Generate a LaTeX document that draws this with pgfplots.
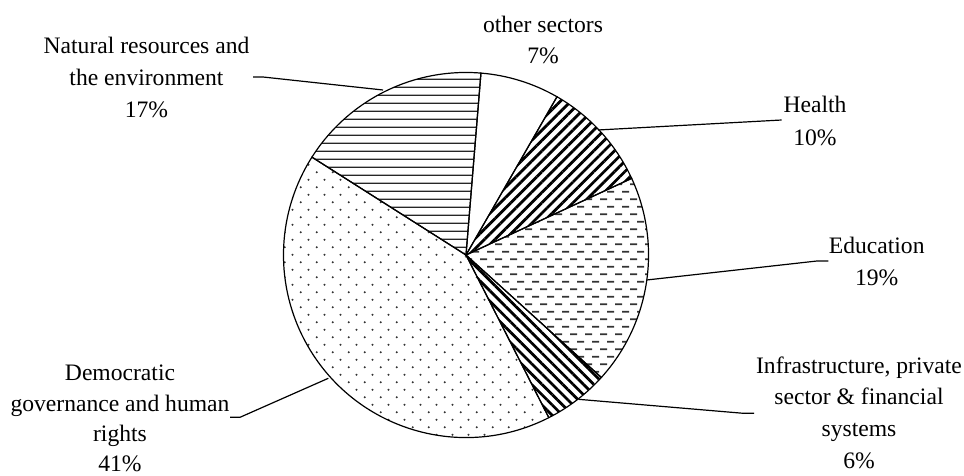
\documentclass[border=0pt]{standalone}
\usepackage{pgfplots}
\pgfplotsset{compat=1.18}
\usepackage{pgfplotstable}
\usetikzlibrary{patterns,patterns.meta}
\usepackage{fontspec}
\setmainfont{Liberation Serif}

% horizontal thin lines (natural resources)
\pgfdeclarepatternformonly{hlinesN}{\pgfqpoint{0pt}{0pt}}{\pgfqpoint{5.8pt}{5.8pt}}{\pgfqpoint{5.8pt}{5.8pt}}{%
  \pgfsetlinewidth{1.05pt}%
  \pgfpathmoveto{\pgfqpoint{-1pt}{2.9pt}}\pgfpathlineto{\pgfqpoint{6.8pt}{2.9pt}}%
  \pgfusepath{stroke}}
% dashed horizontal (education)
\pgfdeclarepatternformonly{edudash}{\pgfqpoint{0pt}{0pt}}{\pgfqpoint{11.25pt}{11.6pt}}{\pgfqpoint{11.25pt}{11.6pt}}{%
  \pgfsetlinewidth{1.3pt}%
  \pgfpathmoveto{\pgfqpoint{0pt}{2.9pt}}\pgfpathlineto{\pgfqpoint{5.6pt}{2.9pt}}%
  \pgfpathmoveto{\pgfqpoint{5.625pt}{8.7pt}}\pgfpathlineto{\pgfqpoint{11.225pt}{8.7pt}}%
  \pgfusepath{stroke}}
% sparse dots (democratic governance)
\pgfdeclarepatternformonly{sparsedots}{\pgfqpoint{0pt}{0pt}}{\pgfqpoint{11.7pt}{11.6pt}}{\pgfqpoint{11.7pt}{11.6pt}}{%
  \pgfpathcircle{\pgfqpoint{2.925pt}{2.9pt}}{0.85pt}%
  \pgfpathcircle{\pgfqpoint{8.775pt}{8.7pt}}{0.85pt}%
  \pgfusepath{fill}}

\tikzset{
  sOther/.style={fill=white},
  sHealth/.style={pattern={Lines[angle=45,distance=5.5pt,line width=2.1pt]},pattern color=black},
  sEdu/.style={pattern=edudash,pattern color=black!80},
  sInfra/.style={pattern={Lines[angle=-45,distance=5.5pt,line width=2.1pt]},pattern color=black},
  sDem/.style={pattern=sparsedots,pattern color=black!80},
  sNat/.style={pattern=hlinesN,pattern color=black!85},
}

\pgfplotstableread{
name value style
other 7.0 sOther
health 9.8 sHealth
education 18.6 sEdu
infra 5.8 sInfra
democratic 41.5 sDem
natural 17.3 sNat
}\piedata

\newcommand\lblfont{\fontsize{17.7pt}{24pt}\selectfont}

\begin{document}
\begin{tikzpicture}
\begin{axis}[
  scale only axis, width=723pt, height=356.25pt,
  xmin=0, xmax=964, ymin=0, ymax=475,
  hide axis, clip=false,
]
\xdef\curang{85.3}
\pgfplotsforeachungrouped \i in {0,...,5}{%
  \pgfplotstablegetelem{\i}{value}\of\piedata \let\val\pgfplotsretval
  \pgfplotstablegetelem{\i}{style}\of\piedata \let\sty\pgfplotsretval
  \pgfmathsetmacro\endang{\curang-3.6*\val}%
  \edef\cmd{\noexpand\draw[line width=0.9pt,\sty] (axis cs:466,220) -- ++(\curang:136.9pt) arc[start angle=\curang, end angle=\endang, radius=136.9pt] -- cycle;}%
  \cmd
  \xdef\curang{\endang}%
}
% leader lines
\draw[line width=0.9pt] (axis cs:383,385) -- (axis cs:263,398) -- (axis cs:253,398);
\draw[line width=0.9pt] (axis cs:598,345) -- (axis cs:781.7,355);
\draw[line width=0.9pt] (axis cs:646.7,195) -- (axis cs:817,214) -- (axis cs:828.3,214);
\draw[line width=0.9pt] (axis cs:578.3,75.7) -- (axis cs:743.3,61.7) -- (axis cs:754,61.7);
\draw[line width=0.9pt] (axis cs:328.3,96.7) -- (axis cs:240,57.7) -- (axis cs:230,57.7);
% labels
\node[anchor=base,font=\lblfont] at (axis cs:146.5,421) {Natural resources and};
\node[anchor=base,font=\lblfont] at (axis cs:146.5,389) {the environment};
\node[anchor=base,font=\lblfont] at (axis cs:146.5,357) {17\%};
\node[anchor=base,font=\lblfont] at (axis cs:543,442.7) {other sectors};
\node[anchor=base,font=\lblfont] at (axis cs:543,411) {7\%};
\node[anchor=base,font=\lblfont] at (axis cs:815,362) {Health};
\node[anchor=base,font=\lblfont] at (axis cs:815,329.3) {10\%};
\node[anchor=base,font=\lblfont] at (axis cs:876.7,221) {Education};
\node[anchor=base,font=\lblfont] at (axis cs:876.7,189.3) {19\%};
\node[anchor=base,font=\lblfont] at (axis cs:859,101) {Infrastructure, private};
\node[anchor=base,font=\lblfont] at (axis cs:859,70) {sector \& financial};
\node[anchor=base,font=\lblfont] at (axis cs:859,38) {systems};
\node[anchor=base,font=\lblfont] at (axis cs:859,7) {6\%};
\node[anchor=base,font=\lblfont] at (axis cs:120,94) {Democratic};
\node[anchor=base,font=\lblfont] at (axis cs:120,64) {governance and human};
\node[anchor=base,font=\lblfont] at (axis cs:120,34) {rights};
\node[anchor=base,font=\lblfont] at (axis cs:120,4) {41\%};
\end{axis}
\pgfresetboundingbox
\path (0,0) rectangle (723pt,356.25pt);
\end{tikzpicture}
\end{document}
